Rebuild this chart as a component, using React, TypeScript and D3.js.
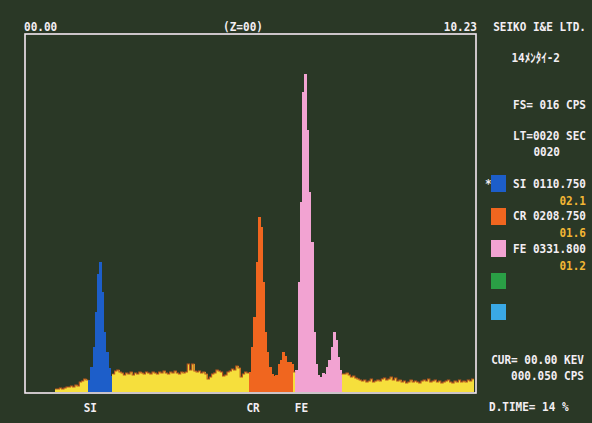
import { useMemo } from 'react'
import * as d3 from 'd3'

// spectrum: counts per 0.05 keV channel, first channel at 0.75 keV
const energyStart = 0.75
const binWidth = 0.05
const counts = [
  3, 3, 4, 3, 4, 5, 5, 6, 5, 7, 6, 10, 11, 13, 12,
  12, 25, 45, 80, 118, 130, 100, 60, 40, 24, 16,
  18, 21, 22, 20, 19, 17, 19, 18, 20, 17,
  19, 18, 20, 19, 18, 20, 19, 18, 20, 19,
  18, 20, 19, 21, 19, 18, 20, 19, 21, 19,
  18, 20, 19, 20, 28, 22, 28, 21, 20, 21,
  19, 20, 18, 13, 15, 18, 19, 22, 21, 20,
  16, 17, 20, 21, 23, 22, 26, 24, 15, 18, 20, 19,
  20, 45, 75, 130, 175, 165, 110, 60, 40, 25, 18, 16, 17, 28, 32, 40, 36, 30, 30, 28,
  20,
  22, 110, 190, 300, 318, 262, 200, 150, 60, 28, 17, 15, 19, 18, 25, 32, 45, 60, 52, 35, 22,
  18,
  18, 19, 17, 15, 16, 14, 13, 12, 11, 12,
  10, 11, 13, 10, 11, 12, 11, 13, 14, 12,
  13, 15, 12, 14, 11, 12, 10, 11, 9, 10,
  12, 10, 11, 10, 9, 11, 12, 11, 13, 10,
  11, 12, 10, 11, 9, 10, 11, 12, 10, 9,
  11, 10, 12, 10, 11, 10, 12, 11, 13,
]

// regions of interest (keV)
const roiNames = ['SI', 'CR', 'FE']
const roiStart = [1.50, 5.15, 6.20]
const roiEnd = [2.05, 6.15, 7.25]
const roiValue = ['0110.750', '0208.750', '0331.800']
const roiError = ['02.1', '01.6', '01.2']
const markerEnergy = [1.55, 5.24, 6.34]

const xMin = 0
const xMax = 10.23
const fullScale = 360

const BG = '#2a3826'
const TXT = '#f3eef3'
const AMBER = '#f2b634'
const YELLOW = '#f6df3c'
const roiColor = ['#1d5ec9', '#f0661f', '#f2a3d2']
const spareColor = ['#2a9f45', '#3aa9e6']

const W = 592
const H = 423
const frame = { left: 25, right: 476, top: 34, bottom: 393 }
const FONT = '"DejaVu Sans Mono", "Noto Sans CJK JP", monospace'

function Label({ x, y, text, anchor = 'start', fill = TXT }: { x: number; y: number; text: string; anchor?: string; fill?: string }) {
  // CRT glyphs are taller and narrower than the font's
  return (
    <text transform={`translate(${x},${y}) scale(1.05,1.2)`} textAnchor={anchor as any} fill={fill}
      fontFamily={FONT} fontSize={10.5} fontWeight="bold">{text}</text>
  )
}

export default function App() {
  const x = useMemo(() => d3.scaleLinear().domain([xMin, xMax]).range([22, 473]), [])
  const y = useMemo(() => d3.scaleLinear().domain([0, fullScale]).range([392, 32]), [])

  const bins = counts.map((c, i) => {
    const e0 = energyStart + i * binWidth
    const mid = e0 + binWidth / 2
    const roi = roiStart.findIndex((s, k) => mid >= s && mid <= roiEnd[k])
    return { e0, e1: e0 + binWidth, c, roi }
  })

  // dark edge on top of the yellow background runs
  let edge = ''
  bins.forEach((b, i) => {
    if (b.roi >= 0) return
    const prev = bins[i - 1]
    if (!prev || prev.roi >= 0) edge += `M${x(b.e0)},${y(b.c)}`
    else edge += `V${y(b.c)}`
    edge += `H${x(b.e1)}`
  })

  const legendY = [175, 208, 240, 273, 304]
  const textY = [188, 220, 253]
  const errY = [205, 237, 270]

  return (
    <div style={{ width: W, height: H, background: BG }}>
      <style>{`body{margin:0;background:${BG}}`}</style>
      <svg width={W} height={H} style={{ display: 'block' }}>
        <rect width={W} height={H} fill={BG} />

        {/* spectrum */}
        <g shapeRendering="crispEdges">
          {bins.map((b, i) => (
            <rect key={i} x={x(b.e0)} width={x(b.e1) - x(b.e0) + 0.6} y={y(b.c)} height={y(0) - y(b.c)}
              fill={b.roi >= 0 ? roiColor[b.roi] : YELLOW} />
          ))}
        </g>
        <path d={edge} fill="none" stroke="#b8561f" strokeWidth={1.2} />

        {/* frame */}
        <rect x={frame.left} y={frame.top} width={frame.right - frame.left} height={frame.bottom - frame.top}
          fill="none" stroke="#f4e8f2" strokeWidth={1.6} />

        {/* top scale labels */}
        <Label x={frame.left - 1} y={31} text={d3.format('05.2f')(xMin)} />
        <Label x={243} y={31} text="(Z=00)" anchor="middle" />
        <Label x={frame.right + 1} y={31} text={d3.format('05.2f')(xMax)} anchor="end" />

        {/* element markers */}
        {roiNames.map((n, k) => (
          <Label key={n} x={x(markerEnergy[k])} y={412} text={n} anchor="middle" />
        ))}

        {/* side panel */}
        <Label x={586} y={31} text="SEIKO I&E LTD." anchor="end" />
        <Label x={560} y={62} text="14ﾒﾝﾀｲ-2" anchor="end" />
        <Label x={586} y={109} text="FS= 016 CPS" anchor="end" />
        <Label x={586} y={140} text="LT=0020 SEC" anchor="end" />
        <Label x={560} y={156} text="0020" anchor="end" />

        <Label x={485} y={188} text="*" />
        {roiNames.map((n, k) => (
          <g key={n}>
            <rect x={491} y={legendY[k]} width={15} height={17} fill={roiColor[k]} />
            <Label x={586} y={textY[k]} text={`${n} ${roiValue[k]}`} anchor="end" />
            <Label x={586} y={errY[k]} text={roiError[k]} anchor="end" fill={AMBER} />
          </g>
        ))}
        {spareColor.map((c, k) => (
          <rect key={c} x={491} y={legendY[3 + k]} width={15} height={16} fill={c} />
        ))}

        <Label x={584} y={364} text="CUR= 00.00 KEV" anchor="end" />
        <Label x={584} y={380} text="000.050 CPS" anchor="end" />
        <Label x={489} y={411} text="D.TIME= 14 %" />
      </svg>
    </div>
  )
}
